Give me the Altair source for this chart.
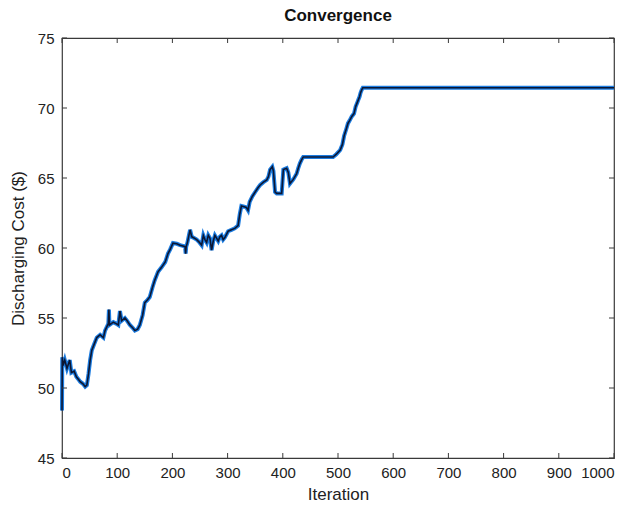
import altair as alt
import pandas as pd

# Convergence history of the discharging cost
iteration = [0, 0.5, 2, 5, 9, 14, 17, 22, 26, 30, 33, 38, 42, 45, 48, 51, 54, 58, 63,
             69, 75, 78, 84, 85, 86, 93, 98, 102, 105, 108, 114, 118, 123, 128, 132, 137,
             141, 146, 150, 155, 159, 164, 168, 171, 174, 180, 187, 192, 196, 201, 208,
             214, 219, 223, 224, 225, 227, 232, 235, 240, 244, 249, 253, 256, 259, 262,
             265, 268, 271, 274, 277, 280, 283, 286, 289, 292, 295, 301, 307, 313, 319,
             322, 325, 330, 334, 337, 340, 345, 350, 355, 359, 365, 371, 374, 377, 381,
             383, 386, 389, 394, 398, 401, 407, 410, 413, 419, 425, 428, 431, 434, 437,
             460, 491, 497, 504, 508, 511, 515, 518, 521, 525, 529, 532, 535, 537, 539,
             541, 543, 545, 600, 700, 800, 900, 1000]
cost = [48.4, 52.2, 51.6, 52.0, 51.4, 52.0, 51.1, 51.2, 50.8, 50.6, 50.45, 50.3, 50.1,
        50.2, 51.0, 52.0, 52.7, 53.1, 53.6, 53.8, 53.6, 54.1, 54.6, 55.6, 54.5, 54.7,
        54.6, 54.5, 55.5, 54.8, 55.0, 54.8, 54.5, 54.3, 54.1, 54.2, 54.5, 55.2, 56.1,
        56.3, 56.5, 57.2, 57.7, 58.0, 58.3, 58.6, 59.0, 59.6, 59.9, 60.35, 60.3, 60.2,
        60.15, 60.1, 59.6, 60.1, 60.35, 61.3, 60.8, 60.7, 60.6, 60.4, 60.2, 60.9, 60.6,
        60.4, 60.9, 60.7, 59.85, 60.5, 60.9, 60.7, 60.5, 60.8, 60.9, 60.6, 60.75, 61.2,
        61.3, 61.4, 61.6, 62.4, 63.0, 62.95, 62.9, 62.7, 63.3, 63.7, 64.0, 64.3, 64.5,
        64.7, 64.86, 65.1, 65.6, 65.8, 65.5, 64.0, 63.9, 63.9, 63.9, 65.6, 65.7, 65.4,
        64.6, 64.9, 65.3, 65.7, 66.05, 66.3, 66.5, 66.5, 66.5, 66.7, 67.0, 67.4, 68.0,
        68.5, 68.9, 69.1, 69.4, 69.6, 70.1, 70.4, 70.6, 70.8, 71.1, 71.3, 71.45, 71.45,
        71.45, 71.45, 71.45, 71.45]

x_ticks = [0, 100, 200, 300, 400, 500, 600, 700, 800, 900, 1000]
y_ticks = [45, 50, 55, 60, 65, 70, 75]

W, H = 552, 420
AXIS = "#3a3a3a"
FONT = "Liberation Sans"

df = pd.DataFrame({"Iteration": iteration, "Cost": cost})
xt = pd.DataFrame({"t": x_ticks})
yt = pd.DataFrame({"t": y_ticks})

x_scale = alt.Scale(domain=[0, 1000], nice=False)
y_scale = alt.Scale(domain=[45, 75], nice=False)

x_enc = alt.X("Iteration:Q", scale=x_scale,
              axis=alt.Axis(title="Iteration", values=x_ticks, format="d",
                            tickSize=0, labelPadding=7, grid=False,
                            domain=False, titlePadding=6))
y_enc = alt.Y("Cost:Q", scale=y_scale,
              axis=alt.Axis(title="Discharging Cost ($)", values=y_ticks,
                            tickSize=0, labelPadding=8, grid=False,
                            domain=False, titlePadding=10))

halo = alt.Chart(df).mark_line(color="#1c7ce0", strokeWidth=4,
                               strokeJoin="miter").encode(x=x_enc, y=y_enc)
core = alt.Chart(df).mark_line(color="#0b1633", strokeWidth=1.6,
                               strokeJoin="miter").encode(
    x=alt.X("Iteration:Q", scale=x_scale),
    y=alt.Y("Cost:Q", scale=y_scale))

# inward tick marks on all four sides of the box
tick_style = dict(color=AXIS, strokeWidth=1)
xb = alt.Chart(xt).mark_rule(**tick_style).encode(
    x=alt.X("t:Q", scale=x_scale), y=alt.value(H), y2=alt.value(H - 5))
xtop = alt.Chart(xt).mark_rule(**tick_style).encode(
    x=alt.X("t:Q", scale=x_scale), y=alt.value(0), y2=alt.value(5))
yl = alt.Chart(yt).mark_rule(**tick_style).encode(
    y=alt.Y("t:Q", scale=y_scale), x=alt.value(0), x2=alt.value(5))
yr = alt.Chart(yt).mark_rule(**tick_style).encode(
    y=alt.Y("t:Q", scale=y_scale), x=alt.value(W), x2=alt.value(W - 5))

chart = (
    alt.layer(halo, core, xb, xtop, yl, yr)
    .properties(
        width=W, height=H,
        background="white",
        title=alt.TitleParams("Convergence", font=FONT, fontSize=17,
                              fontWeight="bold", color="#111", offset=6),
        autosize=alt.AutoSizeParams(type="none"),
        padding={"left": 62, "top": 38, "right": 26, "bottom": 50},
    )
    .configure_view(stroke=AXIS, strokeWidth=1.2)
    .configure_axis(labelFont=FONT, labelFontSize=15, labelColor="#222",
                    titleFont=FONT, titleFontSize=17, titleColor="#222",
                    titleFontWeight="normal")
)

chart.save("out.html", embed_options={"renderer": "svg", "actions": False})
